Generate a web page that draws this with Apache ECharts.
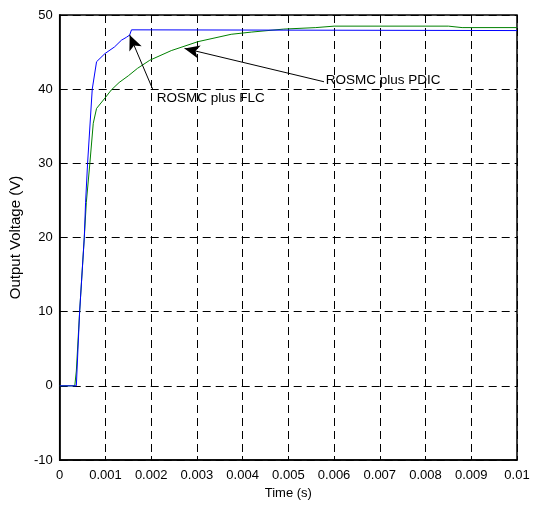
<!DOCTYPE html>
<html>
<head>
<meta charset="utf-8">
<script src="https://cdn.jsdelivr.net/npm/echarts@6/dist/echarts.min.js"></script>
<style>html,body{margin:0;padding:0;background:#fff}#c{width:538px;height:506px}</style>
</head>
<body>
<div id="c"></div>
<script>
var xTicks = [0, 0.001, 0.002, 0.003, 0.004, 0.005, 0.006, 0.007, 0.008, 0.009, 0.01];
var yTicks = [-10, 0, 10, 20, 30, 40, 50];
var flcSeries = [[0,0],[0.000364,0],[0.000436,10],[0.000538,20],[0.000566,24.7],[0.00061,30],[0.000712,40],[0.000806,43.7],[0.00099,44.8],[0.0012,45.7],[0.00135,46.6],[0.00146,47.0],[0.00153,47.3],[0.00157,48],[0.01,47.9]];
var pdicSeries = [[0,0],[0.00033,0],[0.000364,2],[0.000436,10],[0.000538,20],[0.000582,24.7],[0.00066,30],[0.000734,35.4],[0.000806,37.4],[0.00099,38.8],[0.00113,39.9],[0.0013,40.9],[0.0015,41.8],[0.0017,42.8],[0.00197,43.9],[0.00244,45.2],[0.00302,46.4],[0.00375,47.4],[0.0042,47.7],[0.0049,48.1],[0.0056,48.3],[0.006,48.5],[0.0085,48.5],[0.0088,48.3],[0.01,48.3]];
var flcArrow = [[0.00204,39.9],[0.00153,47.3]];
var pdicArrow = [[0.00578,41.0],[0.00273,45.5]];
var flcLabel = {text:'ROSMC plus FLC', at:[0.00212,38.8]};
var pdicLabel = {text:'ROSMC plus PDIC', at:[0.00582,41.2]};

var font = 'Liberation Sans, Arial, sans-serif';
var chart = echarts.init(document.getElementById('c'));
function fmt(v){ return String(+v.toFixed(4)); }
var gridLine = {show:true, lineStyle:{color:'#000', type:[8,5], width:1}};
var tick = {show:true, inside:true, length:4, lineStyle:{color:'#000'}};
chart.setOption({
  animation:false,
  backgroundColor:'#fff',
  textStyle:{fontFamily:font},
  grid:{left:58, right:21, top:15, bottom:46, containLabel:false, show:true, borderColor:'#000', borderWidth:1.5},
  xAxis:{type:'value', min:xTicks[0], max:xTicks[xTicks.length-1], interval:0.001,
    name:'Time (s)', nameLocation:'middle', nameGap:26,
    nameTextStyle:{color:'#000', fontSize:13, fontFamily:font},
    axisLine:{show:true, onZero:false, lineStyle:{color:'#000', width:1.5}},
    axisTick:tick, splitLine:gridLine,
    axisLabel:{color:'#000', fontSize:13, fontFamily:font, margin:9, formatter:fmt}},
  yAxis:{type:'value', min:yTicks[0], max:yTicks[yTicks.length-1], interval:10,
    name:'Output Voltage (V)', nameLocation:'middle', nameGap:18,
    nameTextStyle:{color:'#000', fontSize:15, fontFamily:font},
    axisLine:{show:true, onZero:false, lineStyle:{color:'#000', width:1.5}},
    axisTick:tick, splitLine:gridLine,
    axisLabel:{color:'#000', fontSize:13, fontFamily:font, margin:7}},
  series:[
    {type:'line', name:'ROSMC plus PDIC', data:pdicSeries, showSymbol:false, symbol:'none',
      lineStyle:{color:'#008000', width:1}, z:2,
      markLine:{silent:true, symbol:['none','arrow'], symbolSize:[10,15],
        lineStyle:{color:'#000', width:1, type:'solid'}, label:{show:false},
        data:[[{coord:pdicArrow[0]},{coord:pdicArrow[1]}]]},
      markPoint:{symbol:'circle', symbolSize:0, silent:true,
        label:{show:true, position:'right', distance:0, color:'#000', fontSize:13.5, fontFamily:font, formatter:pdicLabel.text},
        data:[{coord:pdicLabel.at}]}},
    {type:'line', name:'ROSMC plus FLC', data:flcSeries, showSymbol:false, symbol:'none',
      lineStyle:{color:'#0000ff', width:1}, z:3,
      markLine:{silent:true, symbol:['none','arrow'], symbolSize:[10,15],
        lineStyle:{color:'#000', width:1, type:'solid'}, label:{show:false},
        data:[[{coord:flcArrow[0]},{coord:flcArrow[1]}]]},
      markPoint:{symbol:'circle', symbolSize:0, silent:true,
        label:{show:true, position:'right', distance:0, color:'#000', fontSize:13.5, fontFamily:font, formatter:flcLabel.text},
        data:[{coord:flcLabel.at}]}}
  ]
});
</script>
</body>
</html>
